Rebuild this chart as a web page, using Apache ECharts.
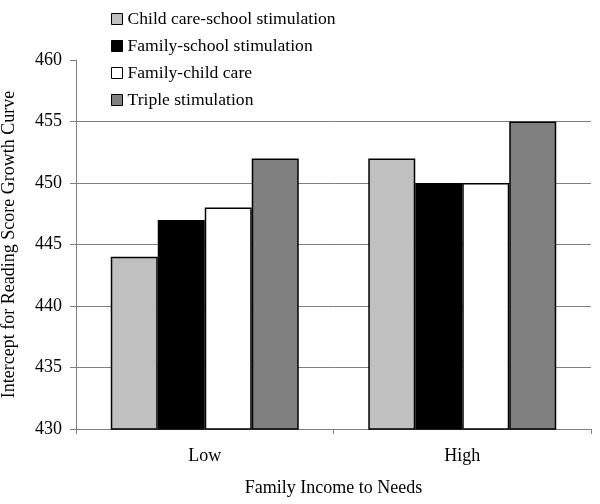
<!DOCTYPE html>
<html>
<head>
<meta charset="utf-8">
<script src="https://cdn.jsdelivr.net/npm/echarts@6/dist/echarts.min.js"></script>
<style>html,body{margin:0;padding:0;background:#fff}#c{width:600px;height:504px}</style>
</head>
<body>
<div id="c"></div>
<script>
var categories = ['Low', 'High'];
var seriesNames = ['Child care-school stimulation', 'Family-school stimulation', 'Family-child care', 'Triple stimulation'];
var childCareSchool = [444, 452];
var familySchool = [447, 450];
var familyChildCare = [448, 450];
var triple = [452, 455];
var seriesValues = [childCareSchool, familySchool, familyChildCare, triple];
var colors = ['#C0C0C0', '#000000', '#FFFFFF', '#808080'];
var font = '"Liberation Serif", "Times New Roman", serif';

var chart = echarts.init(document.getElementById('c'), null, {renderer: 'canvas'});
chart.setOption({
  animation: false,
  backgroundColor: '#fff',
  textStyle: {fontFamily: font, color: '#000'},
  grid: {left: 76, right: 9, top: 60, bottom: 75, containLabel: false, outerBoundsMode: 'none'},
  legend: {
    orient: 'vertical', left: 106, top: 5,
    itemWidth: 11, itemHeight: 11, itemGap: 9,
    icon: 'rect',
    textStyle: {fontFamily: font, fontSize: 17.6, color: '#000'},
    data: seriesNames.map(function (n, i) {
      return {name: n, itemStyle: {borderColor: '#000', borderWidth: 1}};
    })
  },
  xAxis: {
    type: 'category', data: categories,
    name: 'Family Income to Needs', nameLocation: 'middle', nameGap: 50,
    nameTextStyle: {fontFamily: font, fontSize: 18, color: '#000'},
    axisLine: {lineStyle: {color: '#808080', width: 1}},
    axisTick: {show: true, length: 5, lineStyle: {color: '#808080'}},
    axisLabel: {fontFamily: font, fontSize: 18, color: '#000', margin: 18}
  },
  yAxis: {
    type: 'value', min: 430, max: 460, interval: 5,
    name: 'Intercept for Reading Score Growth Curve', nameLocation: 'middle', nameGap: 58, nameRotate: 90,
    nameTextStyle: {fontFamily: font, fontSize: 18, color: '#000'},
    axisLine: {show: true, lineStyle: {color: '#808080', width: 1}},
    axisTick: {show: true, length: 6, lineStyle: {color: '#808080'}},
    axisLabel: {fontFamily: font, fontSize: 18, color: '#000', margin: 14},
    splitLine: {show: true, showMinLine: false, showMaxLine: false, lineStyle: {color: '#808080', width: 1}}
  },
  series: seriesNames.map(function (n, i) {
    return {
      name: n, type: 'bar', data: seriesValues[i],
      barGap: '0%', barCategoryGap: '27%',
      itemStyle: {color: colors[i], borderColor: '#000', borderWidth: 1.5}
    };
  })
});
</script>
</body>
</html>
